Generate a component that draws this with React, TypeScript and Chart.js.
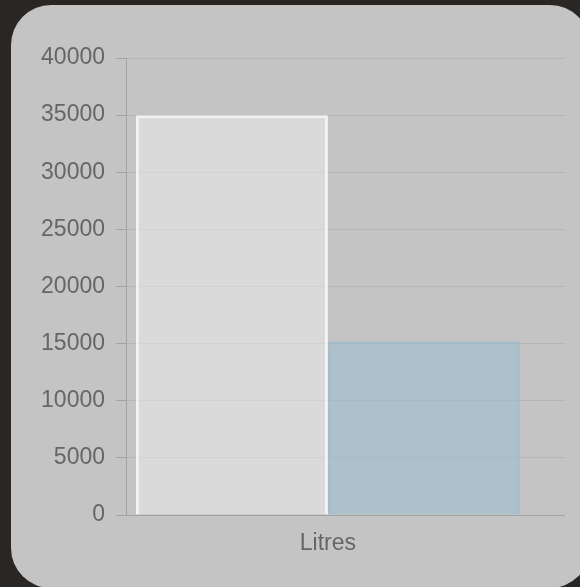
import React, { useEffect, useRef } from "react";
import { Chart, registerables } from "chart.js";

Chart.register(...registerables);

// ---- data ----
const CATEGORIES = ["Litres"];
const SERIES_A_LABEL = "Dataset 1";
const SERIES_A = [35000];
const SERIES_B_LABEL = "Dataset 2";
const SERIES_B = [15200];
const Y_MIN = 0;
const Y_MAX = 40000;
const Y_STEP = 5000;

// ---- style ----
const FONT = "'Helvetica Neue', Helvetica, Arial, 'Liberation Sans', sans-serif";
const TEXT = "#666666";
const GRID = "rgba(0,0,0,0.07)";
const AXIS = "rgba(0,0,0,0.17)";

export default function App() {
  const ref = useRef<HTMLCanvasElement | null>(null);

  useEffect(() => {
    const prevMargin = document.body.style.margin;
    document.body.style.margin = "0";
    const canvas = ref.current;
    if (!canvas) return;
    const chart = new Chart(canvas, {
      type: "bar",
      data: {
        datasets: [
          {
            label: SERIES_A_LABEL,
            data: CATEGORIES.map((_, i) => ({ x: i, y: SERIES_A[i] })),
            backgroundColor: "rgba(255,255,255,0.38)",
            borderColor: "rgba(255,255,255,0.8)",
            borderWidth: 3,
          },
          {
            label: SERIES_B_LABEL,
            data: CATEGORIES.map((_, i) => ({ x: i, y: SERIES_B[i] })),
            backgroundColor: "rgba(151,187,205,0.5)",
            borderColor: "rgba(151,187,205,0.65)",
            borderWidth: 3,
          },
        ],
      },
      options: {
        animation: false,
        responsive: false,
        maintainAspectRatio: false,
        devicePixelRatio: 1,
        categoryPercentage: 0.875,
        barPercentage: 1,
        layout: { padding: { left: 40, right: 15, top: 58, bottom: 0 } },
        plugins: {
          legend: { display: false },
          tooltip: { enabled: false },
        },
        font: { family: FONT, size: 23 },
        scales: {
          x: {
            type: "linear",
            offset: false,
            min: -0.5,
            max: CATEGORIES.length - 1 + 0.587,
            afterBuildTicks: (scale: any) => {
              scale.ticks = CATEGORIES.map((_, i) => ({ value: i }));
            },
            afterFit: (scale: any) => {
              scale.height = 72;
            },
            grid: { display: false, drawTicks: false, offset: false },
            border: { display: false },
            ticks: {
              color: TEXT,
              padding: 15,
              font: { family: FONT, size: 23 },
              callback: (v: any) => CATEGORIES[Number(v)] ?? "",
              maxRotation: 0,
            },
          },
          y: {
            min: Y_MIN,
            max: Y_MAX,
            afterFit: (scale: any) => {
              scale.width = 86;
            },
            grid: {
              color: (ctx: any) => (ctx.tick && ctx.tick.value === 0 ? AXIS : GRID),
              tickColor: AXIS,
              tickLength: 10,
            },
            border: { display: true, color: AXIS, width: 1 },
            ticks: {
              stepSize: Y_STEP,
              color: TEXT,
              padding: 11,
              font: { family: FONT, size: 23 },
              callback: (v: any) => String(v),
            },
          },
        },
      },
    });
    return () => {
      chart.destroy();
      document.body.style.margin = prevMargin;
    };
  }, []);

  return (
    <div
      style={{
        position: "fixed",
        left: 0,
        top: 0,
        width: 580,
        height: 587,
        overflow: "hidden",
        background: "#2a2624",
      }}
    >
      <div
        style={{
          position: "absolute",
          left: 11,
          top: 5,
          width: 579,
          height: 583,
          borderRadius: 40,
          background: "#c4c4c4",
        }}
      />
      <canvas
        ref={ref}
        width={580}
        height={587}
        style={{ position: "absolute", left: 0, top: 0, width: 580, height: 587 }}
      />
    </div>
  );
}
